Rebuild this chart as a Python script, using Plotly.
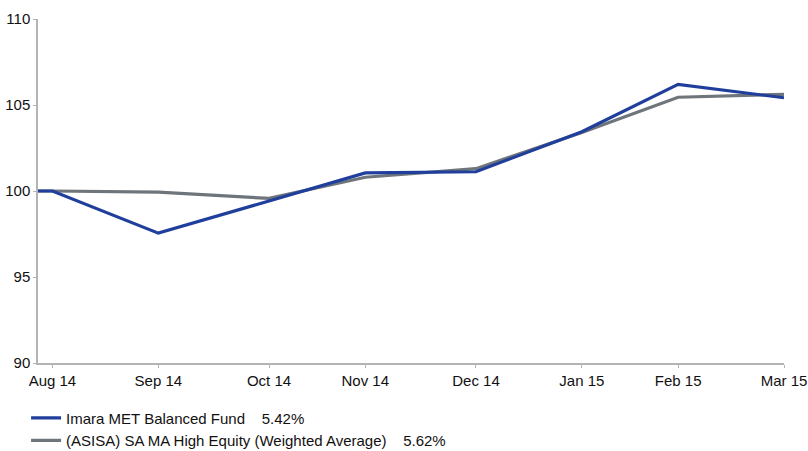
import plotly.graph_objects as go

# Business-day dates (weekends skipped on the axis)
dates = ["2014-08-26", "2014-08-29", "2014-09-30", "2014-10-31", "2014-11-28",
         "2014-12-31", "2015-01-30", "2015-02-27", "2015-03-31"]
fund = [100.0, 100.0, 97.55, 99.44, 101.05, 101.12, 103.45, 106.2, 105.42]
bench = [100.0, 100.0, 99.93, 99.57, 100.8, 101.3, 103.4, 105.45, 105.62]

tick_vals = ["2014-08-29", "2014-09-30", "2014-10-31", "2014-11-28",
             "2014-12-31", "2015-01-30", "2015-02-27", "2015-03-31"]
tick_text = ["Aug 14", "Sep 14", "Oct 14", "Nov 14", "Dec 14", "Jan 15", "Feb 15", "Mar 15"]

name_fund = "Imara MET Balanced Fund\u00a0\u00a0\u00a0\u00a05.42%"
name_bench = "(ASISA) SA MA High Equity (Weighted Average)\u00a0\u00a0\u00a0\u00a05.62%"

BLUE = "#203f9c"
GREY = "#6e757b"

fig = go.Figure()
fig.add_trace(go.Scatter(x=dates, y=bench, mode="lines", name=name_bench,
                         line=dict(color=GREY, width=3.2), legendrank=2))
fig.add_trace(go.Scatter(x=dates, y=fund, mode="lines", name=name_fund,
                         line=dict(color=BLUE, width=3.2), legendrank=1))

fig.update_layout(
    width=808, height=451,
    margin=dict(l=38, r=24, t=19, b=88, autoexpand=False),
    paper_bgcolor="white", plot_bgcolor="white",
    font=dict(family="Liberation Sans, Arial, sans-serif", size=15, color="#111111"),
    showlegend=True,
    legend=dict(x=-0.016, y=-0.112, xanchor="left", yanchor="top",
                orientation="v", tracegroupgap=0,
                font=dict(size=15, color="#111111"),
                bgcolor="rgba(0,0,0,0)", itemwidth=30),
)
fig.update_xaxes(
    type="date", automargin=False,
    range=["2014-08-26", "2015-03-31"],
    rangebreaks=[dict(bounds=["sat", "mon"])],
    tickmode="array", tickvals=tick_vals, ticktext=tick_text,
    showgrid=False, zeroline=False,
    showline=True, linecolor="#b4b4b4", linewidth=1.5,
    ticks="outside", ticklen=3, tickcolor="#b4b4b4",
    tickfont=dict(size=15, color="#111111"),
)
fig.update_yaxes(
    range=[90, 110], tickvals=[90, 95, 100, 105, 110], automargin=False,
    showgrid=False, zeroline=False,
    showline=True, linecolor="#b4b4b4", linewidth=1.5,
    ticks="outside", ticklen=3, tickcolor="#b4b4b4",
    tickfont=dict(size=15, color="#111111"),
)

fig.write_html("out.html")
